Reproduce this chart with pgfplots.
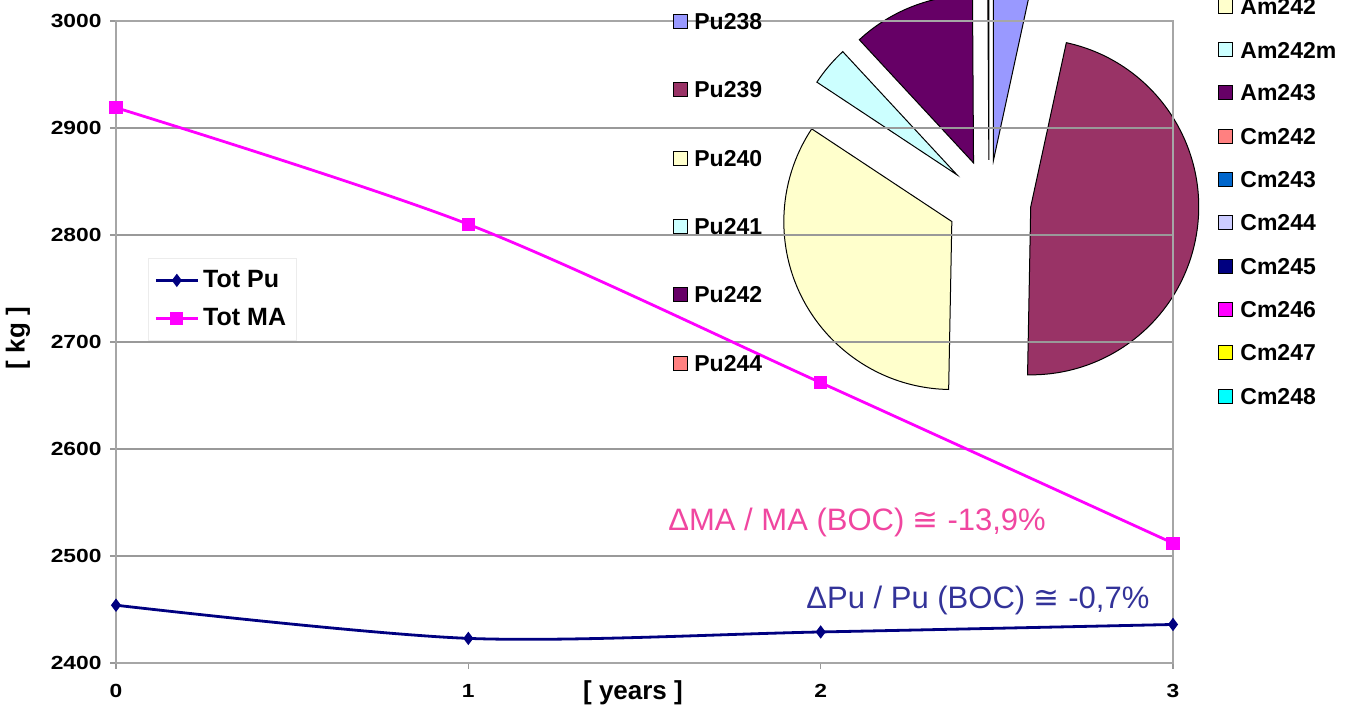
\documentclass[border=0pt]{standalone}
\usepackage{pgfplots}
\pgfplotsset{compat=1.18}
\usepackage{fontspec}
\setmainfont{Liberation Sans}
\newfontfamily\dejavu{DejaVu Sans}
\definecolor{pPu238}{HTML}{9999FF}
\definecolor{pPu239}{HTML}{993366}
\definecolor{pPu240}{HTML}{FFFFCC}
\definecolor{pPu241}{HTML}{CCFFFF}
\definecolor{pPu242}{HTML}{660066}
\definecolor{pPu244}{HTML}{FF8080}
\definecolor{pCm243}{HTML}{0066CC}
\definecolor{pCm244}{HTML}{CCCCFF}
\definecolor{pCm245}{HTML}{000080}
\definecolor{pCm246}{HTML}{FF00FF}
\definecolor{pCm247}{HTML}{FFFF00}
\definecolor{pCm248}{HTML}{00FFFF}
\definecolor{totpu}{HTML}{000080}
\definecolor{totma}{HTML}{FF00FF}
\definecolor{annma}{RGB}{240,70,160}
\definecolor{annpu}{HTML}{333399}
\begin{document}
\begin{tikzpicture}
\clip (0,0) rectangle (672.5pt,355.5pt);
% ---------- pie (Pu composition, %), drawn in a hidden axis measured in pixels
\begin{axis}[
  at={(0pt,0pt)}, anchor=south west, scale only axis,
  width=672.5pt, height=355.5pt,
  xmin=0, xmax=1345, ymin=0, ymax=711, hide axis, clip=false]
\addplot[draw=none] coordinates {(0,0)};
\pgfplotsextra{
  \gdef\cum{0}
  \foreach \p/\c in {3.4/pPu238, 46.9/pPu239, 34.0/pPu240, 3.8/pPu241, 11.8/pPu242, 0.1/pPu244}{
    \pgfmathsetmacro\sa{90-3.6*\cum}
    \pgfmathsetmacro\ea{\sa-3.6*\p}
    \pgfmathsetmacro\ma{(\sa+\ea)/2}
    \filldraw[fill=\c, draw=black, line width=0.5pt]
      ([shift={(\ma:21pt)}]axis cs:989,509) -- +(\sa:84pt)
      arc[start angle=\sa, end angle=\ea, radius=84pt] -- cycle;
    \pgfmathsetmacro\newcum{\cum+\p}
    \xdef\cum{\newcum}
  }
}
\end{axis}
% ---------- main line chart
\begin{axis}[
  at={(58pt,24pt)}, anchor=south west, scale only axis,
  width=528.5pt, height=321pt,
  xmin=0, xmax=3, ymin=2400, ymax=3000,
  xtick={0,1,2,3}, ytick={2400,2500,...,3000},
  tick pos=left, tick align=outside,
  major tick length=3pt,
  tick style={gray!80, line width=0.6pt},
  axis line style={gray!70, line width=0.7pt},
  ymajorgrids, grid style={gray!80, line width=0.7pt},
  /pgf/number format/assume math mode=true,
  /pgf/number format/1000 sep={},
  ticklabel style={font=\bfseries\fontsize{9.5}{10}\selectfont, xscale=1.2},
  xticklabel style={yshift=-4pt},
  legend style={at={(0.0303,0.631)}, anchor=north west,
    draw=gray!15, fill=white, inner xsep=3pt, inner ysep=4pt,
    font=\bfseries\fontsize{12.5}{14}\selectfont, row sep=5pt,
    legend cell align=left},
  legend image code/.code={\draw[mark repeat=2,mark phase=2] plot coordinates {(0pt,0pt) (10.5pt,0pt) (21pt,0pt)};},
]
\addplot[totpu, line width=1.4pt, smooth, mark=diamond*, mark size=2.2pt,
  mark options={solid}] coordinates {(0,2454) (1,2423) (2,2429) (3,2436)};
\addlegendentry{Tot Pu}
\addplot[totma, line width=1.4pt, smooth, mark=square*, mark size=2.6pt,
  mark options={solid}] coordinates {(0,2919) (1,2810) (2,2662) (3,2512)};
\addlegendentry{Tot MA}
\end{axis}
% ---------- axis labels
\node[font=\bfseries\fontsize{13}{15}\selectfont] at (316.5pt,9pt) {[ years ]};
\node[font=\bfseries\fontsize{13}{15}\selectfont, rotate=90] at (9pt,186.5pt) {[ kg ]};
% ---------- annotations
\node[anchor=west, inner sep=0pt, text=annma, font=\fontsize{15.5}{17}\selectfont]
  at (334pt,94.5pt) {ΔMA / MA (BOC) {\dejavu ≅} -13,9\%};
\node[anchor=west, inner sep=0pt, text=annpu, font=\fontsize{15.5}{17}\selectfont]
  at (403pt,55.5pt) {ΔPu / Pu (BOC) {\dejavu ≅} -0,7\%};
% ---------- pie legends
\foreach \y/\c/\t in {21.7/pPu238/Pu238, 89.3/pPu239/Pu239, 158.7/pPu240/Pu240,
    226.7/pPu241/Pu241, 295/pPu242/Pu242, 363.3/pPu244/Pu244}{
  \filldraw[fill=\c, draw=black, line width=0.5pt]
    (336.5pt,{(711-\y)*0.5pt-3.5pt}) rectangle ++(7pt,7pt);
  \node[anchor=west, inner sep=0pt, font=\bfseries\fontsize{11.5}{13}\selectfont]
    at (347pt,{(711-\y)*0.5pt}) {\t};
}
\foreach \y/\c/\t in {6.6/pPu240/Am242, 50/pPu241/Am242m, 93/pPu242/Am243,
    137/pPu244/Cm242, 180/pCm243/Cm243, 223/pCm244/Cm244, 267/pCm245/Cm245,
    310/pCm246/Cm246, 353/pCm247/Cm247, 397/pCm248/Cm248}{
  \filldraw[fill=\c, draw=black, line width=0.5pt]
    (609pt,{(711-\y)*0.5pt-3.5pt}) rectangle ++(7pt,7pt);
  \node[anchor=west, inner sep=0pt, font=\bfseries\fontsize{11.5}{13}\selectfont]
    at (620pt,{(711-\y)*0.5pt}) {\t};
}
\end{tikzpicture}
\end{document}
